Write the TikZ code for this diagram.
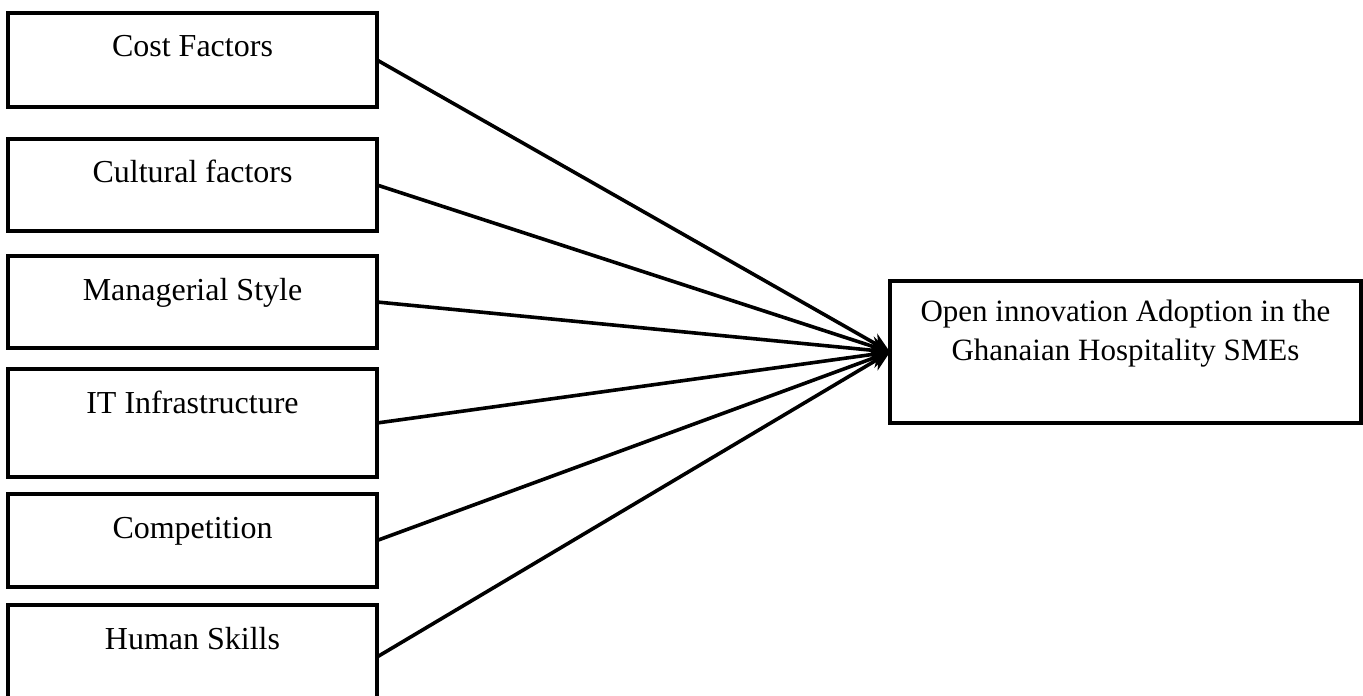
\documentclass[tikz,border=0pt]{standalone}
\usepackage{fontspec}
\setmainfont{Liberation Serif}
\usetikzlibrary{positioning, arrows.meta}
\tikzset{
        >={Stealth[length=10pt, width=9.5pt]}, % makes the arrow heads bold
        factor/.style={draw, line width=1.8pt, inner sep=0pt, outer sep=0pt, minimum width=184.5pt,
          text height=22pt, text depth=25pt, font=\fontsize{16}{19.5}\selectfont}, % boxes on the left
        outcome/.style={draw, line width=1.8pt, inner sep=0pt, outer sep=0pt, minimum width=235.5pt,
          align=center, text height=39.5pt, text depth=31.5pt, font=\fontsize{15.5}{19.5}\selectfont},
        link/.style={->, line width=1.8pt},
    }
\begin{document}
\begin{tikzpicture}
    \useasboundingbox (0,0) rectangle (681.5pt,-347.5pt);
    \clip (0,0) rectangle (681.5pt,-347.5pt);
    \node[factor, anchor=north west] (cost) at (4pt,-6.5pt) {Cost Factors};
    \node[factor, below=16pt of cost, text depth=24pt] (culture) {Cultural factors};
    \node[factor, below=12.5pt of culture, text depth=24pt] (style) {Managerial Style};
    \node[factor, below=10.5pt of style, text depth=32pt] (infra) {IT Infrastructure};
    \node[factor, below=8.5pt of infra, text depth=24.5pt] (compete) {Competition};
    \node[factor, below=9pt of compete, text depth=30pt] (skills) {Human Skills};
    \node[outcome, anchor=north west] (adopt) at (445pt,-140.5pt) {Open innovation Adoption in the\\Ghanaian Hospitality SMEs};
    \path[link]
      (cost.east) edge (adopt.west)
      (culture.east) edge (adopt.west)
      (style.east) edge (adopt.west)
      (infra.east) edge (adopt.west)
      (compete.east) edge (adopt.west)
      (skills.east) edge (adopt.west);
\end{tikzpicture}
\end{document}
